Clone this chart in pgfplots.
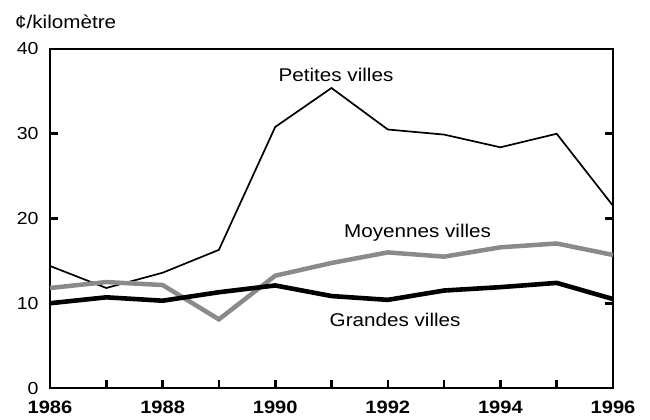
\documentclass[border=0pt]{standalone}
\usepackage{pgfplots}
\pgfplotsset{compat=1.18}
\usepackage{fontspec}
\setmainfont{Liberation Sans}
\newfontfamily\lab[FakeStretch=1.12]{Liberation Sans}
\definecolor{midgray}{RGB}{138,138,138}
\begin{document}
\begin{tikzpicture}
\begin{axis}[
  scale only axis, width=563bp, height=339bp,
  at={(0,0)}, anchor=south west,
  xmin=1986, xmax=1996, ymin=0, ymax=40,
  axis line style={line width=2.8bp},
  tick style={line width=2.6bp, black},
  tick align=inside, major tick length=8bp, minor tick length=8bp,
  xtick={1986,1988,...,1996}, minor xtick={1987,1989,...,1995},
  xticklabels={1986,1988,1990,1992,1994,1996},
  xtick pos=bottom, ytick pos=both,
  ytick={0,10,20,30,40},
  x tick label style={font=\lab\fontsize{18}{20}\selectfont\bfseries, yshift=-9bp},
  y tick label style={font=\lab\fontsize{17.5}{20}\selectfont, xshift=-8bp},
  /pgf/number format/assume math mode=true,
  /pgf/number format/1000 sep={},
  clip=false,
]
\addplot[black, line width=1.7bp] coordinates {
(1986,14.4) (1987,11.8) (1988,13.6) (1989,16.3) (1990,30.8) (1991,35.4)
(1992,30.5) (1993,29.9) (1994,28.4) (1995,30.0) (1996,21.5)};
\addplot[midgray, line width=4.5bp] coordinates {
(1986,11.8) (1987,12.5) (1988,12.15) (1989,8.1) (1990,13.25) (1991,14.75)
(1992,16.0) (1993,15.5) (1994,16.6) (1995,17.05) (1996,15.7)};
\addplot[black, line width=4.6bp] coordinates {
(1986,10.0) (1987,10.7) (1988,10.3) (1989,11.3) (1990,12.1) (1991,10.85)
(1992,10.4) (1993,11.5) (1994,11.9) (1995,12.4) (1996,10.5)};
\node[font=\lab\fontsize{18.5}{20}\selectfont] at (axis cs:1991.08,36.9) {Petites villes};
\node[font=\lab\fontsize{18.5}{20}\selectfont] at (axis cs:1992.53,18.3) {Moyennes villes};
\node[font=\lab\fontsize{18.5}{20}\selectfont] at (axis cs:1992.13,8.0) {Grandes villes};
\end{axis}
\node[anchor=west, inner sep=0pt, font=\lab\fontsize{18.5}{20}\selectfont] at (-35bp,366bp) {¢/kilomètre};
\path[use as bounding box] (-50bp,-32bp) rectangle (600bp,388bp);
\end{tikzpicture}
\end{document}
